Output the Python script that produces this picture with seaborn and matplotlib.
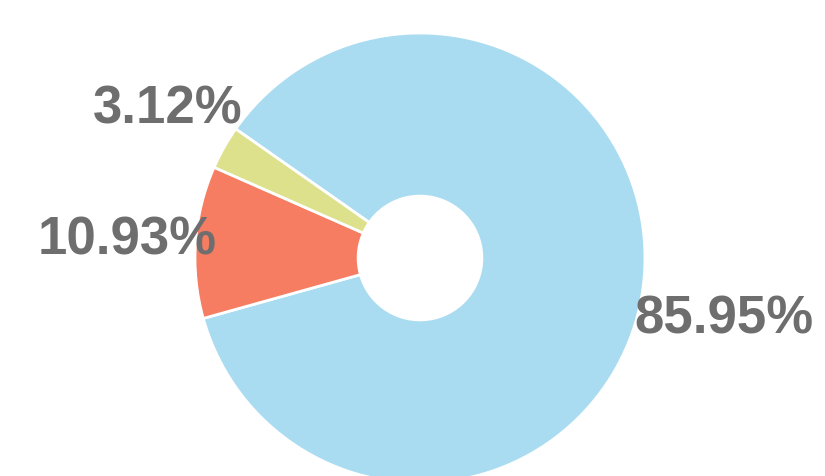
import numpy as np
import matplotlib
matplotlib.use('Agg')
import matplotlib.pyplot as plt
import seaborn as sns

# udzialy w procentach
nazwy = ['Niebieski', 'Czerwony', 'Zolty']
udzialy = [85.95, 10.93, 3.12]
etykiety = [f'{v:.2f}%' for v in udzialy]

kolory = sns.color_palette(['#aadcf1', '#f67c62', '#dde18c'])

sns.set_theme(style='white')
plt.rcParams['font.family'] = ['Liberation Sans', 'DejaVu Sans']

fig = plt.figure(figsize=(8.25, 4.76), dpi=100)
ax = fig.add_axes([0, 0, 1, 1])

wedges, _ = ax.pie(udzialy, colors=kolory, startangle=145, counterclock=False,
                   radius=1.0, wedgeprops={'width': 0.725, 'edgecolor': 'white', 'linewidth': 2})

# przesuniecia etykiet (piksele) i wyrownanie
przesuniecia = [(-7, -24, 'left'), (21, 1, 'right'), (19, 38, 'right')]
for w, tekst, (dx, dy, ha) in zip(wedges, etykiety, przesuniecia):
    kat = np.deg2rad((w.theta1 + w.theta2) / 2)
    ax.annotate(tekst, xy=(np.cos(kat), np.sin(kat)), xytext=(dx, dy),
                textcoords='offset pixels', ha=ha, va='center',
                fontsize=38, fontweight='bold', color='#6e6e6e')

ax.set_aspect('auto')
ax.set_xlim(-420 / 225, 405 / 225)
ax.set_ylim(-218 / 225, 258 / 225)
ax.axis('off')

plt.savefig('out.png', dpi=100, facecolor='white')
